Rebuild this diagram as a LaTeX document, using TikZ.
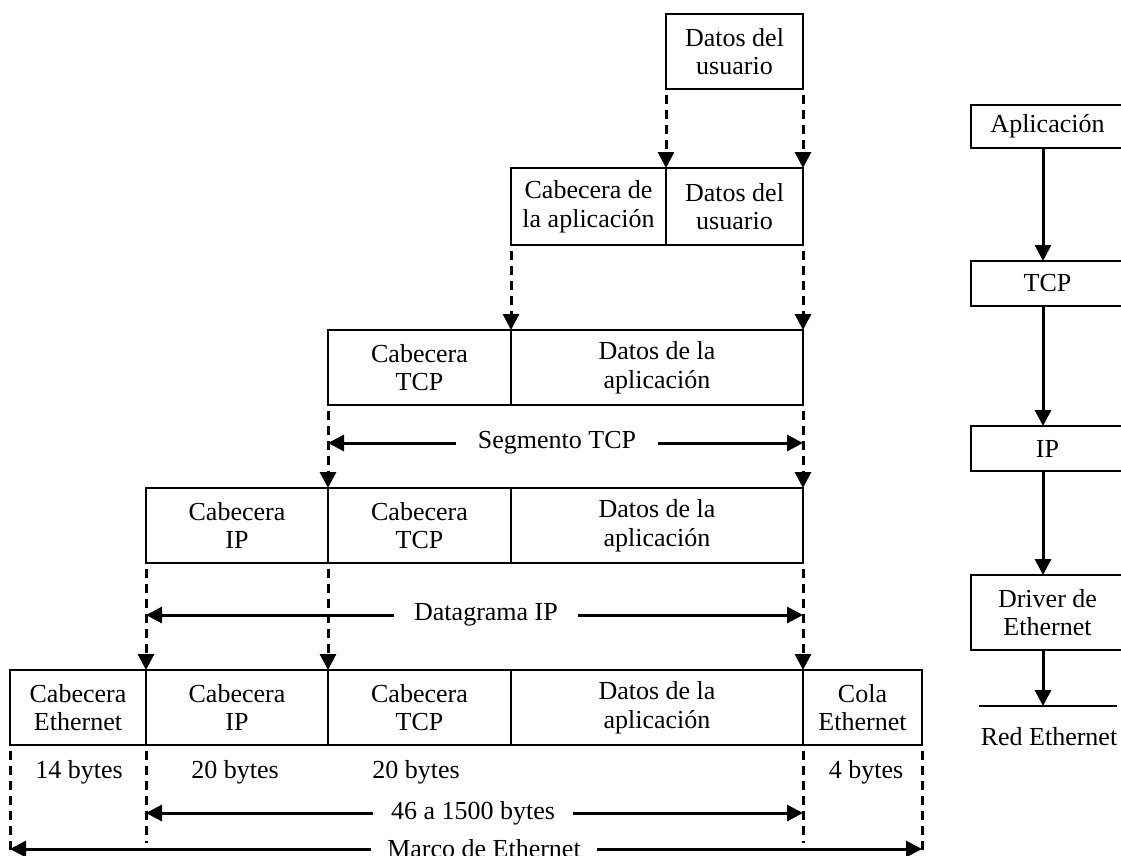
\documentclass[tikz,border=0pt]{standalone}
\usepackage{fontspec}
\setmainfont{Liberation Serif}
\usetikzlibrary{arrows.meta}

% cell of a packet row: name, x-left, x-right, y-top, y-bottom, text
\newcommand\pktcell[6]{%
  \node[cellbox, minimum width={(#3-#2)*1pt}, minimum height={(#5-#4)*1pt}]
    (#1) at ({(#2+#3)/2},{(#4+#5)/2}) {#6};}

\begin{document}
\begin{tikzpicture}[x=1pt,y=-1pt,
  every node/.style={font=\fontsize{26pt}{28.5pt}\selectfont, align=center},
  cellbox/.style={draw, line width=2pt, inner sep=0pt, outer sep=0pt},
  tip/.style={-{Triangle[length=16pt,width=16pt]}},
  dasharrow/.style={tip, line width=3pt, dash pattern=on 9pt off 6pt, dash phase=9pt},
  dashline/.style={line width=3pt, dash pattern=on 9pt off 6pt, dash phase=9pt},
  solidarrow/.style={tip, line width=3pt},
  label/.style={inner xsep=22pt, inner ysep=0pt},
]
\useasboundingbox (0,0) rectangle (1121,855);

% ---- encapsulation rows ----
\pktcell{r1}{666}{803}{14}{89}{Datos del\\usuario}

\pktcell{r2a}{511}{666}{168}{245}{Cabecera de\\la aplicación}
\pktcell{r2b}{666}{803}{168}{245}{Datos del\\usuario}

\pktcell{r3a}{328}{511}{330}{405}{Cabecera\\TCP}
\pktcell{r3b}{511}{803}{330}{405}{Datos de la\\aplicación}

\pktcell{r4a}{146}{328}{488}{563}{Cabecera\\IP}
\pktcell{r4b}{328}{511}{488}{563}{Cabecera\\TCP}
\pktcell{r4c}{511}{803}{488}{563}{Datos de la\\aplicación}

\pktcell{r5a}{10}{146}{670}{745}{Cabecera\\Ethernet}
\pktcell{r5b}{146}{328}{670}{745}{Cabecera\\IP}
\pktcell{r5c}{328}{511}{670}{745}{Cabecera\\TCP}
\pktcell{r5d}{511}{803}{670}{745}{Datos de la\\aplicación}
\pktcell{r5e}{803}{922}{670}{745}{Cola\\Ethernet}

% ---- dashed drops between rows ----
\draw[dasharrow] (r1.south west) -- (r2b.north west);
\draw[dasharrow] (r1.south east) -- (r2b.north east);

\draw[dasharrow] (r2a.south west) -- (r3b.north west);
\draw[dasharrow] (r2b.south east) -- (r3b.north east);

\draw[dasharrow] (r3a.south west) -- (r4b.north west);
\draw[dasharrow] (r3b.south east) -- (r4c.north east);

\draw[dasharrow] (r4a.south west) -- (r5b.north west);
\draw[dasharrow] (r4b.south west) -- (r5c.north west);
\draw[dasharrow] (r4c.south east) -- (r5d.north east);

% ---- span labels ----
\node[label] (seg) at (557,443) {Segmento TCP};
\draw[solidarrow] (seg.west) -- (seg.west -| r3a.south west);
\draw[solidarrow] (seg.east) -- (seg.east -| r3b.south east);

\node[label, inner xsep=20pt] (dg) at (486,615) {Datagrama IP};
\draw[solidarrow] (dg.west) -- (dg.west -| r4a.south west);
\draw[solidarrow] (dg.east) -- (dg.east -| r4c.south east);

% ---- frame size marks ----
\coordinate (e0) at (10,862);
\coordinate (e1) at (146,843);
\coordinate (e2) at (803,843);
\coordinate (e3) at (922,862);
\draw[dashline] (r5a.south west) -- (e0);
\draw[dashline] (r5b.south west) -- (e1);
\draw[dashline] (r5e.south west) -- (e2);
\draw[dashline] (r5e.south east) -- (e3);

\node (by14) at (79,772) {14 bytes};
\node (by20a) at (235,772) {20 bytes};
\node (by20b) at (416,772) {20 bytes};
\node (by4) at (866,772) {4 bytes};

\node[label, inner xsep=18pt] (b46) at (473,813) {46 a 1500 bytes};
\draw[solidarrow] (b46.west) -- (b46.west -| e1);
\draw[solidarrow] (b46.east) -- (b46.east -| e2);

\node[label, inner xsep=16pt] (mde) at (484,849) {Marco de Ethernet};
\draw[solidarrow] (mde.west) -- (mde.west -| e0);
\draw[solidarrow] (mde.east) -- (mde.east -| e3);

% ---- protocol stack ----
\pktcell{app}{971}{1124}{105}{148}{Aplicación}
\pktcell{tcp}{971}{1124}{261}{306}{TCP}
\pktcell{ip}{971}{1124}{426}{471}{IP}
\pktcell{drv}{971}{1124}{575}{650}{Driver de\\Ethernet}
\coordinate (ax) at (1043,0);
\coordinate (netL) at (979,706);
\coordinate (netR) at (1117,706);
\draw[line width=2pt] (netL) -- (netR);
\node (net) at (1049,737) {Red Ethernet};

\draw[solidarrow] (app.south -| ax) -- (tcp.north -| ax);
\draw[solidarrow] (tcp.south -| ax) -- (ip.north -| ax);
\draw[solidarrow] (ip.south -| ax) -- (drv.north -| ax);
\draw[solidarrow] (drv.south -| ax) -- (netL -| ax);
\end{tikzpicture}
\end{document}
